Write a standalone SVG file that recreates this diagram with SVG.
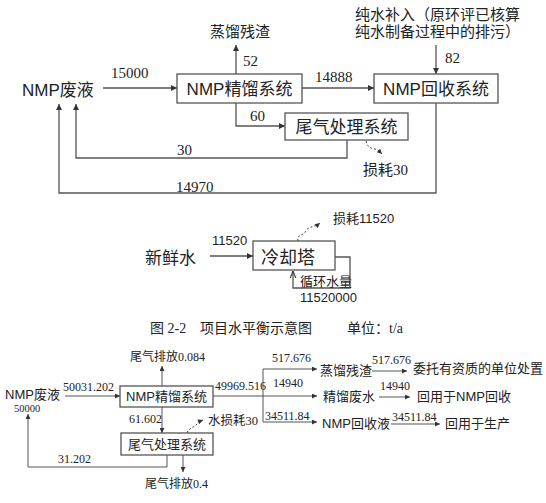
<svg xmlns="http://www.w3.org/2000/svg" width="546" height="503" viewBox="0 0 546 503">
<defs>
<marker id="ah" viewBox="0 0 10 10" refX="10" refY="5" markerWidth="7" markerHeight="6" markerUnits="userSpaceOnUse" orient="auto"><path d="M0,0 L10,5 L0,10 z" fill="#333"/></marker>
<marker id="as" viewBox="0 0 10 10" refX="10" refY="5" markerWidth="6" markerHeight="5" markerUnits="userSpaceOnUse" orient="auto"><path d="M0,0 L10,5 L0,10 z" fill="#333"/></marker>
<marker id="ao" viewBox="0 0 10 10" refX="10" refY="5" markerWidth="7" markerHeight="7" markerUnits="userSpaceOnUse" orient="auto"><path d="M0,1 L10,5 L0,9" fill="none" stroke="#333" stroke-width="1.5"/></marker>
</defs>
<style>
.box{fill:#fff;stroke:#555;stroke-width:1.3}
.ln{fill:none;stroke:#555;stroke-width:1.3}
.lt{fill:none;stroke:#555;stroke-width:1}
.dash{fill:none;stroke:#444;stroke-width:1;stroke-dasharray:2,2}
.sans{font-family:"Liberation Sans","Noto Sans CJK SC",sans-serif;fill:#222}
.serif{font-family:"Liberation Serif","Noto Sans CJK SC",serif;fill:#222}
</style>
<rect width="546" height="503" fill="#fff"/>

<!-- Top diagram -->
<g id="connectors-top">
<line class="ln" x1="103" y1="88" x2="177" y2="88" marker-end="url(#ah)"/>
<line class="ln" x1="236" y1="74" x2="236" y2="45" marker-end="url(#ah)"/>
<line class="ln" x1="302" y1="88" x2="374" y2="88" marker-end="url(#ah)"/>
<line class="ln" x1="436" y1="45" x2="436" y2="74" marker-end="url(#ah)"/>
<polyline class="ln" points="236,103 236,126 285,126" marker-end="url(#ah)"/>
<polyline class="ln" points="347,140 347,158 76,158 76,104" marker-end="url(#ah)"/>
<polyline class="ln" points="436,103 436,193 59,193 59,104" marker-end="url(#ah)"/>
<path class="dash" d="M366,141 C368,150 374,148 378,150 L382,154" marker-end="url(#as)"/>
</g>
<g id="n-nmp-waste">
<text class="sans" x="22" y="96" font-size="17">NMP废液</text>
</g>
<g id="n-distill">
<rect class="box" x="177" y="74" width="125" height="29"/>
<text class="sans" x="239.5" y="95" font-size="17" text-anchor="middle">NMP精馏系统</text>
</g>
<g id="n-recover">
<rect class="box" x="374" y="74" width="124" height="29"/>
<text class="sans" x="436" y="95" font-size="17" text-anchor="middle">NMP回收系统</text>
</g>
<g id="n-tailgas">
<rect class="box" x="285" y="113" width="123" height="27"/>
<text class="serif" x="346.5" y="133" font-size="17" text-anchor="middle">尾气处理系统</text>
</g>
<g id="n-residue">
<text class="serif" x="210" y="37" font-size="15">蒸馏残渣</text>
</g>
<g id="n-purewater">
<text class="serif" x="355" y="20" font-size="15">纯水补入（原环评已核算</text>
<text class="serif" x="355" y="37" font-size="15">纯水制备过程中的排污）</text>
</g>
<g id="n-loss30">
<text class="serif" x="363" y="175" font-size="15">损耗30</text>
</g>
<g id="labels-top" class="serif" font-size="15">
<text x="111" y="78">15000</text>
<text x="243" y="66">52</text>
<text x="315" y="82">14888</text>
<text x="445" y="63">82</text>
<text x="250" y="121">60</text>
<text x="177" y="155">30</text>
<text x="176" y="192">14970</text>
</g>

<!-- Cooling tower -->
<g id="connectors-mid">
<line class="ln" x1="210" y1="256" x2="253" y2="256" marker-end="url(#ah)"/>
<polyline class="ln" points="335,257 350,257 350,288 293,288 293,271" marker-end="url(#ao)"/>
<path class="dash" d="M298,241 C296,234 304,236 306,231 C308,226 314,228 320,223" marker-end="url(#as)"/>
</g>
<g id="n-fresh">
<text class="serif" x="145" y="264" font-size="17">新鲜水</text>
</g>
<g id="n-tower">
<rect class="box" x="253" y="241" width="82" height="29"/>
<text class="serif" x="288" y="264" font-size="18" text-anchor="middle">冷却塔</text>
</g>
<g id="labels-mid">
<text class="sans" x="212" y="245" font-size="13">11520</text>
<text class="sans" x="333" y="223" font-size="13">损耗11520</text>
<text class="serif" x="300" y="286" font-size="13">循环水量</text>
<text class="sans" x="300" y="302" font-size="13">11520000</text>
</g>
<g id="caption" class="serif" font-size="14">
<text x="150" y="333">图 2-2</text>
<text x="200" y="333">项目水平衡示意图</text>
<text x="347" y="333">单位：t/a</text>
</g>

<!-- Bottom diagram -->
<g id="connectors-bottom">
<line class="lt" x1="65" y1="396" x2="120" y2="396" marker-end="url(#as)"/>
<line class="lt" x1="162" y1="386" x2="162" y2="366" marker-end="url(#as)"/>
<line class="lt" x1="213" y1="396" x2="263" y2="396"/>
<line class="lt" x1="263" y1="369" x2="263" y2="422"/>
<line class="lt" x1="263" y1="369" x2="317" y2="369" marker-end="url(#as)"/>
<line class="lt" x1="263" y1="396" x2="317" y2="396" marker-end="url(#as)"/>
<line class="lt" x1="263" y1="422" x2="317" y2="422" marker-end="url(#as)"/>
<line class="lt" x1="372" y1="371" x2="407" y2="371" marker-end="url(#as)"/>
<line class="lt" x1="379" y1="397" x2="410" y2="397" marker-end="url(#as)"/>
<line class="lt" x1="391" y1="424" x2="440" y2="424" marker-end="url(#as)"/>
<line class="lt" x1="162" y1="407" x2="162" y2="433" marker-end="url(#as)"/>
<polyline class="lt" points="167,455 167,467 28,467 28,414" marker-end="url(#as)"/>
<line class="lt" x1="183" y1="455" x2="183" y2="472" marker-end="url(#as)"/>
<path class="dash" d="M187,433 C190,426 196,428 198,422 L203,420" marker-end="url(#as)"/>
</g>
<g id="b-nmp-waste">
<text class="sans" x="5" y="399" font-size="13">NMP废液</text>
<text class="serif" x="14" y="412" font-size="10.5">50000</text>
</g>
<g id="b-distill">
<rect class="box" x="120" y="386" width="93" height="21" stroke-width="1"/>
<text class="sans" x="166.5" y="401" font-size="13" text-anchor="middle">NMP精馏系统</text>
</g>
<g id="b-tailgas">
<rect class="box" x="121" y="433" width="92" height="22" stroke-width="1"/>
<text class="serif" x="167" y="449" font-size="13" text-anchor="middle">尾气处理系统</text>
</g>
<g id="b-exhaust1"><text class="serif" x="130" y="361" font-size="12">尾气排放0.084</text></g>
<g id="b-exhaust2"><text class="serif" x="145" y="488" font-size="12">尾气排放0.4</text></g>
<g id="b-waterloss"><text class="serif" x="208" y="425" font-size="12.5">水损耗30</text></g>
<g id="b-residue"><text class="serif" x="320" y="375" font-size="13">蒸馏残渣</text></g>
<g id="b-dispose"><text class="serif" x="413" y="373" font-size="13">委托有资质的单位处置</text></g>
<g id="b-wastewater"><text class="serif" x="323" y="401" font-size="13">精馏废水</text></g>
<g id="b-reuse-nmp"><text class="sans" x="417" y="401" font-size="13">回用于NMP回收</text></g>
<g id="b-recov-liquid"><text class="sans" x="322" y="428" font-size="13">NMP回收液</text></g>
<g id="b-reuse-prod"><text class="serif" x="445" y="428" font-size="13">回用于生产</text></g>
<g id="labels-bottom" class="serif" font-size="12">
<text x="63" y="391">50031.202</text>
<text x="215" y="390">49969.516</text>
<text x="272" y="362">517.676</text>
<text x="273" y="387">14940</text>
<text x="265" y="420">34511.84</text>
<text x="372" y="364">517.676</text>
<text x="380" y="390">14940</text>
<text x="392" y="421">34511.84</text>
<text x="129" y="423">61.602</text>
<text x="58" y="463">31.202</text>
</g>
</svg>
